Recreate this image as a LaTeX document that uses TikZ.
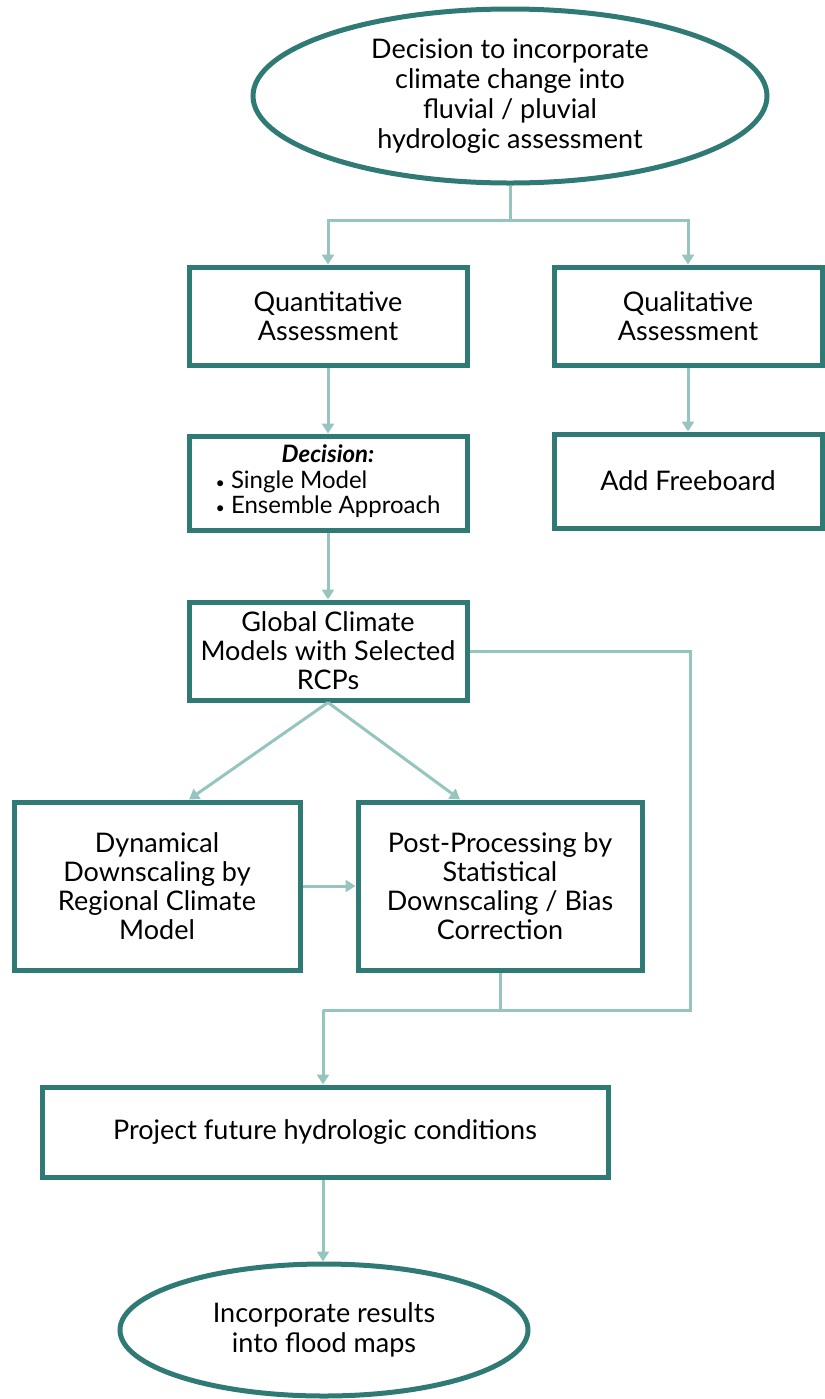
\documentclass[tikz,border=0pt]{standalone}
\usepackage{fontspec}
\setmainfont{Lato}
\usetikzlibrary{shapes.geometric,arrows.meta}
\definecolor{boxc}{RGB}{47,122,116}
\definecolor{linkc}{RGB}{150,196,190}
\tikzset{
  stepbox/.style={draw=boxc, line width=2.5pt, rectangle, align=center, inner sep=2pt,
    font=\fontsize{13.5}{14.5}\selectfont},
  oval/.style={draw=boxc, line width=2.5pt, ellipse, align=center, inner sep=0pt,
    font=\fontsize{13.5}{15}\selectfont},
  link/.style={draw=linkc, line width=1.5pt},
  flow/.style={link, -{Triangle[width=6pt,length=5pt]}}
}
\begin{document}
\begin{tikzpicture}[x=0.5pt, y=-0.5pt]
\useasboundingbox (0,0) rectangle (825,1399);

\node[oval, minimum width=257pt, minimum height=87pt] (start) at (510,96)
  {Decision to incorporate\\climate change into\\fluvial / pluvial\\hydrologic assessment};

\node[stepbox, minimum width=139pt, minimum height=49pt] (quant) at (328,316) {Quantitative\\Assessment};
\node[stepbox, minimum width=134pt, minimum height=49pt] (qual) at (688,316) {Qualitative\\Assessment};
\node[stepbox, minimum width=139pt, minimum height=47pt, font=\fontsize{12}{12.5}\selectfont] (choice) at (328,483)
  {\begin{tabular}{@{}l@{}}\multicolumn{1}{c}{\textbf{\textit{Decision:}}}\\
   {\footnotesize\textbullet}~Single Model\\{\footnotesize\textbullet}~Ensemble Approach\end{tabular}};
\node[stepbox, minimum width=134pt, minimum height=47pt] (board) at (688,481) {Add Freeboard};
\node[stepbox, minimum width=139pt, minimum height=49pt] (gcm) at (328,651) {Global Climate\\Models with Selected\\RCPs};
\node[stepbox, minimum width=143pt, minimum height=84pt] (dyn) at (157,886)
  {Dynamical\\Downscaling by\\Regional Climate\\Model};
\node[stepbox, minimum width=142pt, minimum height=84pt] (post) at (500,886)
  {Post-Processing by\\Statistical\\Downscaling / Bias\\Correction};
\node[stepbox, minimum width=283pt, minimum height=45pt] (proj) at (325,1132) {Project future hydrologic conditions};
\node[oval, minimum width=204pt, minimum height=66pt] (finish) at (324,1330)
  {Incorporate results\\into flood maps};

% connectors
\coordinate (split) at (510,220);
\coordinate (side) at (690,1010);
\coordinate (merge) at (323,1010);
\draw[link] (start.south) -- (split);
\draw[flow] (split) -| (quant.north);
\draw[flow] (split) -| (qual.north);
\draw[flow] (quant) -- (choice);
\draw[flow] (qual) -- (board);
\draw[flow] (choice) -- (gcm);
\draw[flow] (gcm.south) -- ([xshift=16pt]dyn.north);
\draw[flow] (gcm.south) -- ([xshift=-20pt]post.north);
\draw[flow] (dyn) -- (post);
\draw[link] (gcm.east) -| (side) -- (merge);
\draw[link] (post.south) -- (post.south |- merge);
\draw[flow] (merge) -- (merge |- proj.north);
\draw[flow] (proj.south -| merge) -- (merge |- finish.north);
\end{tikzpicture}
\end{document}
